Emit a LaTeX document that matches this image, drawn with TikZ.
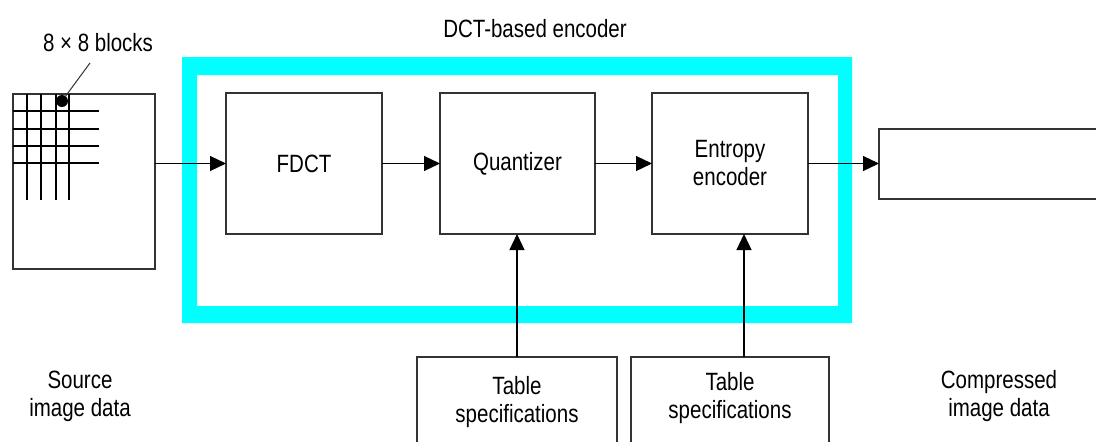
\documentclass[tikz,border=0pt]{standalone}
\usepackage{fontspec}
\setmainfont[FakeStretch=0.82]{Liberation Sans}
\usetikzlibrary{arrows.meta}
\definecolor{aqua}{RGB}{0,255,255}
\begin{document}
\begin{tikzpicture}[x=1pt,y=-1pt,
  every node/.style={font=\fontsize{25}{28}\selectfont, inner sep=0pt, outer sep=0pt},
  blk/.style={draw=black!80, line width=1.2pt, anchor=north west, align=center},
  lbl/.style={align=center},
  arr/.style={draw=black, line width=1.2pt, -{Triangle[length=16pt,width=15pt]}},
  grid/.style={draw=black, line width=1.3pt}]
\useasboundingbox (0,0) rectangle (1096,442);
\clip (0,0) rectangle (1096,442);
\fill[white] (0,0) rectangle (1096,442);
% cyan frame
\fill[aqua, even odd rule] (182,57) rectangle (852,323) (197,75) rectangle (838,306);
% source image
\node[blk, minimum width=142pt, minimum height=175pt] (src) at (13,94) {};
\foreach \x in {27,41,56,69} \draw[grid] (\x,94) -- (\x,200);
\foreach \y in {111,129,146,163} \draw[grid] (13,\y) -- (99,\y);
\node[circle, fill=black, minimum size=12pt] (dot) at (62,101) {};
\coordinate (ldr) at (90,63);
\draw[line width=1pt, black!80] (dot) -- (ldr);
\node[lbl] (blk8) at (98,43) {8 × 8 blocks};
% encoder blocks
\node[blk, minimum width=156pt, minimum height=141pt] (fdct) at (226,93) {FDCT};
\node[blk, minimum width=155pt, minimum height=141pt] (quant) at (440,93) {Quantizer};
\node[blk, minimum width=156pt, minimum height=141pt] (ent) at (652,93) {Entropy\\encoder};
\node[blk, minimum width=300pt, minimum height=70pt] (out) at (879,129) {};
\node[blk, minimum width=200pt, minimum height=150pt] (tabL) at (417,357) {};
\node[blk, minimum width=198pt, minimum height=150pt] (tabR) at (631,357) {};
% labels
\node[lbl] (title) at (535,29) {DCT-based encoder};
\node[lbl] (srcl) at (80,396) {Source\\image data};
\node[lbl] (outl) at (999,396) {Compressed\\image data};
\node[lbl] (tabLt) at (517,402) {Table\\specifications};
\node[lbl] (tabRt) at (730,398) {Table\\specifications};
% connectors
\draw[arr] (src.east |- fdct.west) -- (fdct.west);
\draw[arr] (fdct.east) -- (quant.west);
\draw[arr] (quant.east) -- (ent.west);
\draw[arr] (ent.east) -- (ent.east -| out.west);
\draw[arr] (tabL.north) -- (tabL.north |- quant.south);
\draw[arr] ([xshift=14pt]tabR.north) -- ([xshift=14pt]tabR.north |- ent.south);
\end{tikzpicture}
\end{document}
